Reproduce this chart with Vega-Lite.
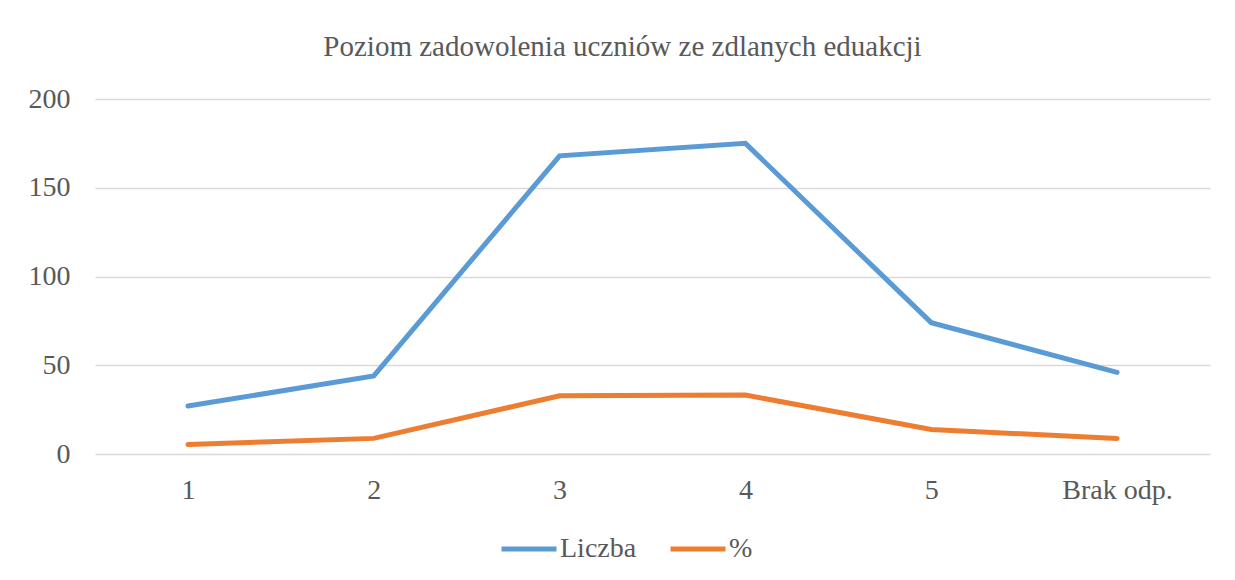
{
  "$schema": "https://vega.github.io/schema/vega-lite/v6.json",
  "width": 1115,
  "height": 355,
  "autosize": "none",
  "padding": {"left": 95, "top": 99, "right": 25, "bottom": 126},
  "background": "white",
  "title": {
    "text": "Poziom zadowolenia uczniów ze zdlanych eduakcji",
    "font": "Liberation Serif",
    "fontSize": 29,
    "fontWeight": "normal",
    "color": "#595959",
    "anchor": "middle",
    "frame": "group",
    "baseline": "alphabetic",
    "offset": 41,
    "dx": -30,
    "dy": 41
  },
  "data": {
    "values": [
      {"kategoria": "1", "seria": "Liczba", "wartosc": 27},
      {"kategoria": "2", "seria": "Liczba", "wartosc": 44},
      {"kategoria": "3", "seria": "Liczba", "wartosc": 168},
      {"kategoria": "4", "seria": "Liczba", "wartosc": 175},
      {"kategoria": "5", "seria": "Liczba", "wartosc": 74},
      {"kategoria": "Brak odp.", "seria": "Liczba", "wartosc": 46},
      {"kategoria": "1", "seria": "%", "wartosc": 5.4},
      {"kategoria": "2", "seria": "%", "wartosc": 8.8},
      {"kategoria": "3", "seria": "%", "wartosc": 32.8},
      {"kategoria": "4", "seria": "%", "wartosc": 33.2},
      {"kategoria": "5", "seria": "%", "wartosc": 13.8},
      {"kategoria": "Brak odp.", "seria": "%", "wartosc": 8.8}
    ]
  },
  "mark": {"type": "line", "strokeWidth": 5, "strokeCap": "round", "strokeJoin": "miter"},
  "encoding": {
    "x": {
      "field": "kategoria",
      "type": "ordinal",
      "sort": null,
      "scale": {"type": "point", "padding": 0.5},
      "axis": {
        "title": null,
        "labelAngle": 0,
        "domain": false,
        "ticks": false,
        "labelPadding": 22,
        "labelFont": "Liberation Serif",
        "labelFontSize": 28,
        "labelColor": "#595959",
        "grid": false
      }
    },
    "y": {
      "field": "wartosc",
      "type": "quantitative",
      "scale": {"domain": [0, 200], "nice": false},
      "axis": {
        "title": null,
        "values": [0, 50, 100, 150, 200],
        "domain": false,
        "ticks": false,
        "labelPadding": 25,
        "labelFont": "Liberation Serif",
        "labelFontSize": 28,
        "labelColor": "#595959",
        "grid": true,
        "gridColor": "#D9D9D9",
        "gridWidth": 1.5
      }
    },
    "color": {
      "field": "seria",
      "type": "nominal",
      "sort": ["Liczba", "%"],
      "scale": {"domain": ["Liczba", "%"], "range": ["#5B9BD5", "#ED7D31"]},
      "legend": {
        "title": null,
        "orient": "none",
        "direction": "horizontal",
        "legendX": 404,
        "legendY": 420,
        "symbolType": "stroke",
        "symbolSize": 3025,
        "symbolStrokeWidth": 5,
        "labelFont": "Liberation Serif",
        "labelFontSize": 28,
        "labelColor": "#595959",
        "labelOffset": 1,
        "columnPadding": 23
      }
    }
  },
  "config": {"view": {"stroke": null}}
}
